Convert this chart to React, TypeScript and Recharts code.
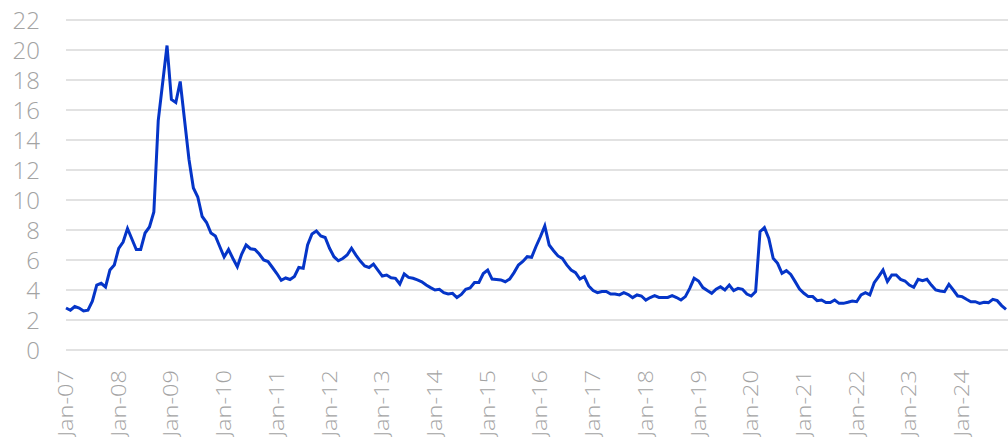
import { LineChart, Line, XAxis, YAxis, CartesianGrid } from 'recharts';

const MONTHS = ['Jan', 'Feb', 'Mar', 'Apr', 'May', 'Jun', 'Jul', 'Aug', 'Sep', 'Oct', 'Nov', 'Dec'];
const YEARS = ['07', '08', '09', '10', '11', '12', '13', '14', '15', '16', '17', '18', '19', '20', '21', '22', '23', '24'];

// monthly values, Jan-07 .. Nov-24 (one row per year)
const values = [
    2.8, 2.65, 2.9, 2.8, 2.6, 2.65, 3.25, 4.33, 4.45, 4.2, 5.33, 5.67,
    6.78, 7.2, 8.1, 7.4, 6.7, 6.7, 7.8, 8.2, 9.2, 15.3, 17.8, 20.3,
    16.7, 16.5, 17.9, 15.3, 12.7, 10.8, 10.2, 8.9, 8.5, 7.8, 7.6, 6.9,
    6.2, 6.7, 6.1, 5.55, 6.4, 7.0, 6.75, 6.7, 6.4, 6.0, 5.9, 5.5,
    5.1, 4.65, 4.8, 4.7, 4.9, 5.5, 5.45, 7.0, 7.73, 7.93, 7.6, 7.5,
    6.78, 6.22, 5.95, 6.1, 6.33, 6.78, 6.33, 5.93, 5.6, 5.5, 5.73, 5.33,
    4.93, 5.0, 4.82, 4.78, 4.4, 5.07, 4.84, 4.78, 4.67, 4.55, 4.33, 4.16,
    4.0, 4.05, 3.82, 3.73, 3.78, 3.5, 3.7, 4.05, 4.13, 4.5, 4.5, 5.1,
    5.33, 4.73, 4.7, 4.67, 4.55, 4.73, 5.16, 5.67, 5.9, 6.22, 6.18, 6.9,
    7.55, 8.27, 7.0, 6.62, 6.27, 6.1, 5.67, 5.33, 5.16, 4.73, 4.9, 4.27,
    3.96, 3.82, 3.9, 3.9, 3.73, 3.73, 3.67, 3.82, 3.7, 3.49, 3.67, 3.6,
    3.33, 3.5, 3.62, 3.5, 3.5, 3.5, 3.62, 3.5, 3.33, 3.56, 4.11, 4.78,
    4.6, 4.16, 3.96, 3.78, 4.05, 4.22, 4.0, 4.33, 3.96, 4.11, 4.05, 3.73,
    3.6, 3.9, 7.89, 8.16, 7.44, 6.11, 5.78, 5.11, 5.29, 5.04, 4.56, 4.07,
    3.78, 3.56, 3.56, 3.29, 3.33, 3.16, 3.16, 3.33, 3.11, 3.11, 3.18, 3.27,
    3.22, 3.67, 3.82, 3.67, 4.49, 4.89, 5.33, 4.56, 5.0, 5.0, 4.71, 4.6,
    4.33, 4.18, 4.71, 4.62, 4.71, 4.33, 4.0, 3.93, 3.89, 4.38, 4.0, 3.6,
    3.56, 3.38, 3.22, 3.22, 3.11, 3.18, 3.16, 3.38, 3.29, 2.96, 2.71,
];

const yTicks = [0, 2, 4, 6, 8, 10, 12, 14, 16, 18, 20, 22];

const labels = YEARS.flatMap(yy => MONTHS.map(m => `${m}-${yy}`));
const data = values.map((v, i) => ({ month: labels[i], value: v }));

const TEXT = '#a3a3a3';
const FONT = '"Open Sans", sans-serif';

const MonthTick = ({ x, y, payload }: { x?: number; y?: number; payload?: { value: string } }) => (
    <text
        transform={`translate(${x},${(y ?? 0) + 12}) rotate(-90) scale(1.18,1)`}
        textAnchor="end"
        dy="0.35em"
        fill={TEXT}
        fontSize={20}
        fontFamily={FONT}
        fontWeight={300}
    >
        {payload?.value}
    </text>
);

export default function App() {
    return (
        <div style={{ position: 'absolute', left: 0, top: 0, background: '#fff' }}>
            <LineChart width={1008} height={437} data={data} margin={{ top: 20, right: 0, bottom: 0, left: 0 }}>
                <CartesianGrid vertical={false} stroke="#d9d9d9" strokeWidth={1.5} />
                <XAxis
                    dataKey="month"
                    interval={11}
                    height={87}
                    axisLine={false}
                    tickLine={false}
                    padding={{ left: 0, right: 2 }}
                    tick={<MonthTick />}
                />
                <YAxis
                    domain={[0, 22]}
                    ticks={yTicks}
                    interval={0}
                    width={66}
                    axisLine={false}
                    tickLine={false}
                    tickSize={0}
                    tickMargin={26}
                    tick={{ fill: TEXT, fontSize: 24, fontFamily: FONT, fontWeight: 300 }}
                />
                <Line
                    type="linear"
                    dataKey="value"
                    stroke="#0535c8"
                    strokeWidth={3}
                    dot={false}
                    isAnimationActive={false}
                />
            </LineChart>
        </div>
    );
}
